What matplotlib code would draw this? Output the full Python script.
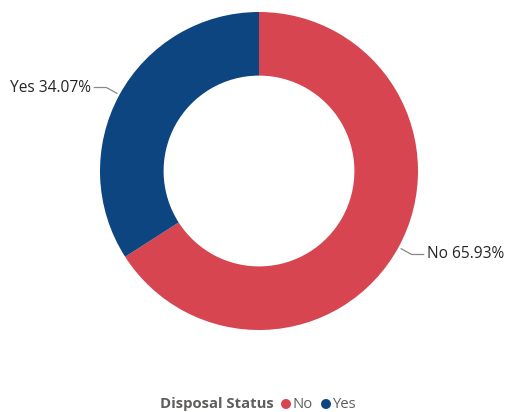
import numpy as np
import matplotlib.pyplot as plt

status = ['No', 'Yes']
share = [65.93, 34.07]
colors = ['#D64550', '#0C4580']

W, H = 509, 412
cx, cy, R = 259, 412 - 171, 159

fig = plt.figure(figsize=(W / 100, H / 100), dpi=100)
ax = fig.add_axes([0, 0, 1, 1])
wedges, _ = ax.pie(share, colors=colors, startangle=90, counterclock=False,
                   center=(cx, cy), radius=R,
                   wedgeprops=dict(width=R * 0.4, linewidth=0))
ax.set_xlim(0, W)
ax.set_ylim(0, H)
ax.axis('off')

font = 'Open Sans'
# data labels with leader lines
for w, name, val in zip(wedges, status, share):
    mid = np.deg2rad((w.theta1 + w.theta2) / 2)
    side = 1 if np.cos(mid) > 0 else -1
    x0, y0 = cx + (R + 3) * np.cos(mid), cy + (R + 3) * np.sin(mid)
    x1, y1 = cx + (R + 15) * np.cos(mid), cy + (R + 15) * np.sin(mid)
    x2 = x1 + side * 12
    ax.plot([x0, x1, x2], [y0, y1, y1], color='#888888', lw=0.9)
    ax.text(x2 + side * 3, y1, f'{name} {val:.2f}%', ha='left' if side > 0 else 'right',
            va='center', fontsize=11.2, color='#252423', family=font)

# legend row
ly = H - 404
ax.text(160, ly, 'Disposal Status', fontsize=10.7, fontweight='bold', color='#605E5C',
        va='center', ha='left', family=font)
ax.scatter([286, 326], [ly, ly], s=38, c=colors)
ax.text(293, ly, 'No', fontsize=10.7, color='#605E5C', va='center', family=font)
ax.text(332, ly, 'Yes', fontsize=10.7, color='#605E5C', va='center', family=font)

fig.savefig('out.png', dpi=100)
